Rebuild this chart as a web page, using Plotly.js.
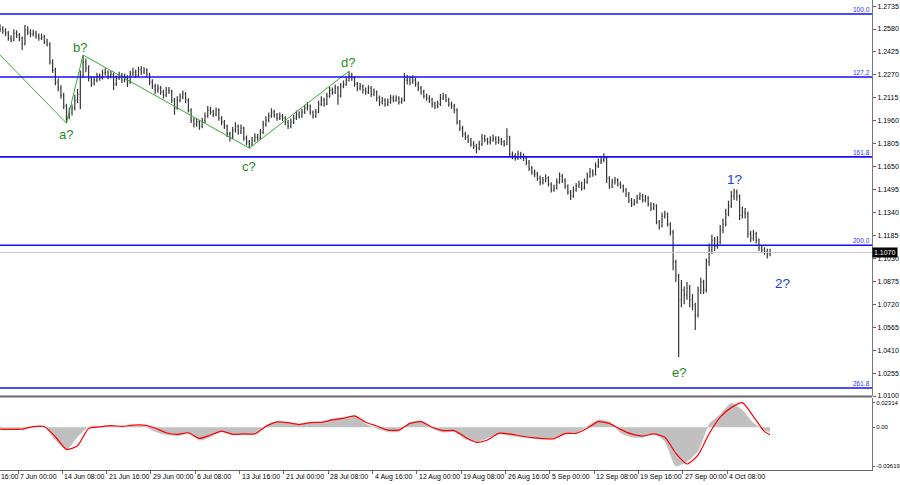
<!DOCTYPE html>
<html><head><meta charset="utf-8">
<script src="https://cdn.plot.ly/plotly-3.0.1.min.js"></script>
<style>html,body{margin:0;padding:0;background:#fff}#chart{width:900px;height:485px}</style>
</head><body><div id="chart"></div>
<script>
// H4 bars, every second bar kept (bar sequence index = 2*k)
const barStep = 2;
const open = [
1.2590,1.2579,1.2566,1.2552,1.2519,1.2505,1.2552,1.2539,1.2519,1.2478,
1.2573,1.2559,1.2546,1.2552,1.2532,1.2519,1.2525,1.2492,1.2478,1.2356,
1.2302,1.2221,1.2181,1.2133,1.2059,1.1991,1.2018,1.2045,1.2100,1.2140,
1.2269,1.2356,1.2316,1.2248,1.2214,1.2235,1.2262,1.2248,1.2282,1.2289,
1.2262,1.2275,1.2208,1.2248,1.2269,1.2235,1.2255,1.2221,1.2275,1.2289,
1.2269,1.2302,1.2289,1.2302,1.2275,1.2221,1.2194,1.2167,1.2181,1.2154,
1.2133,1.2167,1.2160,1.2100,1.2045,1.2100,1.2120,1.2140,1.2100,1.2032,
1.1964,1.1937,1.1951,1.1924,1.1957,1.1991,1.2032,1.2018,1.2005,1.2032,
1.1978,1.1951,1.1924,1.1870,1.1843,1.1897,1.1924,1.1883,1.1910,1.1843,
1.1816,1.1802,1.1830,1.1850,1.1843,1.1883,1.1937,1.1964,1.1991,1.2018,
1.1998,1.1978,1.1991,1.1978,1.1951,1.1924,1.1951,1.1978,1.2005,1.1991,
1.2018,1.2045,1.2059,1.2018,1.1991,1.2018,1.2072,1.2100,1.2072,1.2126,
1.2167,1.2154,1.2181,1.2126,1.2194,1.2208,1.2235,1.2262,1.2248,1.2208,
1.2181,1.2194,1.2167,1.2154,1.2181,1.2140,1.2154,1.2113,1.2086,1.2100,
1.2072,1.2086,1.2113,1.2100,1.2113,1.2086,1.2100,1.2235,1.2235,1.2221,
1.2235,1.2208,1.2181,1.2154,1.2126,1.2113,1.2100,1.2072,1.2059,1.2072,
1.2113,1.2126,1.2100,1.2072,1.2059,1.2032,1.1951,1.1910,1.1870,1.1850,
1.1830,1.1802,1.1789,1.1775,1.1802,1.1843,1.1830,1.1816,1.1830,1.1843,
1.1816,1.1830,1.1816,1.1802,1.1850,1.1735,1.1721,1.1708,1.1735,1.1721,
1.1708,1.1681,1.1640,1.1613,1.1600,1.1573,1.1546,1.1559,1.1573,1.1532,
1.1492,1.1505,1.1546,1.1586,1.1559,1.1519,1.1478,1.1451,1.1492,1.1519,
1.1532,1.1505,1.1546,1.1586,1.1613,1.1600,1.1654,1.1681,1.1694,1.1708,
1.1573,1.1519,1.1546,1.1559,1.1532,1.1519,1.1492,1.1465,1.1424,1.1397,
1.1411,1.1438,1.1451,1.1424,1.1438,1.1397,1.1370,1.1384,1.1276,1.1249,
1.1316,1.1330,1.1262,1.1208,1.1005,1.0911,1.0749,1.0816,1.0783,1.0830,
1.0749,1.0715,1.0647,1.0816,1.0870,1.0816,1.1005,1.1086,1.1154,1.1113,
1.1140,1.1222,1.1262,1.1330,1.1384,1.1451,1.1478,1.1451,1.1323,1.1343,
1.1330,1.1195,1.1167,1.1195,1.1154,1.1100,1.1086,1.1073,1.1059];
const high = [
1.2612,1.2598,1.2585,1.2566,1.2538,1.2578,1.2571,1.2552,1.2530,1.2607,
1.2598,1.2578,1.2575,1.2568,1.2550,1.2548,1.2540,1.2515,1.2490,1.2375,
1.2318,1.2245,1.2200,1.2150,1.2075,1.2050,1.2070,1.2135,1.2175,1.2300,
1.2404,1.2380,1.2335,1.2262,1.2258,1.2285,1.2280,1.2305,1.2315,1.2300,
1.2296,1.2285,1.2265,1.2292,1.2282,1.2278,1.2268,1.2298,1.2318,1.2305,
1.2325,1.2330,1.2322,1.2315,1.2285,1.2240,1.2210,1.2205,1.2195,1.2170,
1.2190,1.2188,1.2170,1.2115,1.2125,1.2145,1.2165,1.2155,1.2112,1.2045,
1.1980,1.1975,1.1965,1.1980,1.2015,1.2060,1.2055,1.2035,1.2050,1.2045,
1.1990,1.1965,1.1935,1.1885,1.1920,1.1950,1.1935,1.1935,1.1920,1.1860,
1.1830,1.1850,1.1875,1.1870,1.1905,1.1960,1.1990,1.2015,1.2045,1.2035,
1.2012,1.2015,1.2005,1.1990,1.1965,1.1975,1.2000,1.2030,1.2025,1.2040,
1.2068,1.2085,1.2070,1.2030,1.2040,1.2095,1.2125,1.2115,1.2150,1.2190,
1.2185,1.2205,1.2195,1.2215,1.2232,1.2258,1.2295,1.2285,1.2260,1.2222,
1.2215,1.2205,1.2185,1.2200,1.2195,1.2178,1.2165,1.2130,1.2120,1.2112,
1.2110,1.2135,1.2130,1.2132,1.2125,1.2118,1.2282,1.2270,1.2262,1.2268,
1.2250,1.2225,1.2195,1.2170,1.2145,1.2132,1.2115,1.2090,1.2095,1.2140,
1.2150,1.2140,1.2115,1.2090,1.2075,1.2045,1.1965,1.1925,1.1885,1.1868,
1.1845,1.1822,1.1805,1.1825,1.1870,1.1865,1.1845,1.1855,1.1868,1.1855,
1.1856,1.1845,1.1830,1.1910,1.1858,1.1752,1.1740,1.1758,1.1750,1.1738,
1.1720,1.1695,1.1655,1.1630,1.1615,1.1590,1.1580,1.1598,1.1585,1.1545,
1.1528,1.1570,1.1610,1.1600,1.1572,1.1530,1.1492,1.1515,1.1540,1.1555,
1.1548,1.1570,1.1610,1.1640,1.1632,1.1678,1.1705,1.1720,1.1741,1.1718,
1.1585,1.1568,1.1580,1.1572,1.1550,1.1530,1.1505,1.1478,1.1438,1.1432,
1.1460,1.1475,1.1465,1.1460,1.1450,1.1410,1.1405,1.1395,1.1290,1.1340,
1.1352,1.1340,1.1275,1.1222,1.1020,1.0925,1.0884,1.0840,1.0870,1.0850,
1.0790,1.0730,1.0840,1.0900,1.0885,1.1030,1.1130,1.1190,1.1175,1.1180,
1.1255,1.1300,1.1365,1.1420,1.1485,1.1500,1.1495,1.1462,1.1380,1.1370,
1.1345,1.1215,1.1222,1.1210,1.1165,1.1118,1.1105,1.1095,1.1095];
const low = [
1.2560,1.2548,1.2531,1.2500,1.2490,1.2498,1.2520,1.2498,1.2438,1.2470,
1.2540,1.2525,1.2530,1.2515,1.2500,1.2505,1.2478,1.2462,1.2340,1.2285,
1.2200,1.2160,1.2110,1.2040,1.1944,1.1970,1.1995,1.2030,1.2080,1.2040,
1.2250,1.2290,1.2225,1.2190,1.2198,1.2220,1.2230,1.2238,1.2265,1.2240,
1.2248,1.2168,1.2195,1.2235,1.2215,1.2220,1.2188,1.2210,1.2262,1.2250,
1.2258,1.2270,1.2275,1.2255,1.2200,1.2175,1.2140,1.2150,1.2135,1.2110,
1.2120,1.2140,1.2080,1.2000,1.2035,1.2085,1.2105,1.2080,1.2015,1.1945,
1.1915,1.1920,1.1900,1.1910,1.1945,1.1980,1.2000,1.1985,1.1990,1.1960,
1.1930,1.1905,1.1850,1.1820,1.1835,1.1880,1.1865,1.1870,1.1825,1.1795,
1.1775,1.1790,1.1815,1.1825,1.1830,1.1870,1.1920,1.1950,1.1980,1.1980,
1.1960,1.1965,1.1958,1.1930,1.1905,1.1910,1.1938,1.1965,1.1975,1.1980,
1.2005,1.2030,1.2000,1.1975,1.1980,1.2010,1.2060,1.2055,1.2065,1.2115,
1.2135,1.2140,1.2068,1.2118,1.2180,1.2195,1.2225,1.2230,1.2190,1.2160,
1.2165,1.2145,1.2135,1.2140,1.2120,1.2125,1.2090,1.2060,1.2070,1.2055,
1.2060,1.2075,1.2085,1.2088,1.2070,1.2075,1.2090,1.2205,1.2200,1.2210,
1.2190,1.2160,1.2135,1.2110,1.2095,1.2080,1.2050,1.2040,1.2045,1.2060,
1.2100,1.2085,1.2055,1.2040,1.2010,1.1935,1.1890,1.1850,1.1830,1.1810,
1.1785,1.1770,1.1740,1.1760,1.1790,1.1815,1.1798,1.1800,1.1818,1.1798,
1.1805,1.1795,1.1785,1.1795,1.1720,1.1700,1.1690,1.1695,1.1700,1.1688,
1.1660,1.1620,1.1595,1.1580,1.1555,1.1525,1.1530,1.1545,1.1515,1.1475,
1.1480,1.1495,1.1535,1.1540,1.1500,1.1460,1.1424,1.1440,1.1480,1.1505,
1.1488,1.1495,1.1535,1.1575,1.1582,1.1590,1.1640,1.1668,1.1680,1.1540,
1.1500,1.1505,1.1530,1.1515,1.1500,1.1475,1.1445,1.1405,1.1378,1.1385,
1.1400,1.1425,1.1408,1.1410,1.1380,1.1350,1.1355,1.1260,1.1225,1.1240,
1.1300,1.1245,1.1185,1.0950,1.0870,1.0363,1.0700,1.0720,1.0750,1.0700,
1.0680,1.0546,1.0630,1.0790,1.0790,1.0800,1.0980,1.1060,1.1080,1.1095,
1.1125,1.1200,1.1245,1.1315,1.1370,1.1425,1.1420,1.1290,1.1300,1.1300,
1.1170,1.1140,1.1150,1.1130,1.1080,1.1065,1.1055,1.1030,1.1045];
const close = [
1.2579,1.2566,1.2552,1.2519,1.2505,1.2552,1.2539,1.2519,1.2478,1.2573,
1.2559,1.2546,1.2552,1.2532,1.2519,1.2525,1.2492,1.2478,1.2356,1.2302,
1.2221,1.2181,1.2133,1.2059,1.1991,1.2018,1.2045,1.2100,1.2140,1.2269,
1.2356,1.2316,1.2248,1.2214,1.2235,1.2262,1.2248,1.2282,1.2289,1.2262,
1.2275,1.2208,1.2248,1.2269,1.2235,1.2255,1.2221,1.2275,1.2289,1.2269,
1.2302,1.2289,1.2302,1.2275,1.2221,1.2194,1.2167,1.2181,1.2154,1.2133,
1.2167,1.2160,1.2100,1.2045,1.2100,1.2120,1.2140,1.2100,1.2032,1.1964,
1.1937,1.1951,1.1924,1.1957,1.1991,1.2032,1.2018,1.2005,1.2032,1.1978,
1.1951,1.1924,1.1870,1.1843,1.1897,1.1924,1.1883,1.1910,1.1843,1.1816,
1.1802,1.1830,1.1850,1.1843,1.1883,1.1937,1.1964,1.1991,1.2018,1.1998,
1.1978,1.1991,1.1978,1.1951,1.1924,1.1951,1.1978,1.2005,1.1991,1.2018,
1.2045,1.2059,1.2018,1.1991,1.2018,1.2072,1.2100,1.2072,1.2126,1.2167,
1.2154,1.2181,1.2126,1.2194,1.2208,1.2235,1.2262,1.2248,1.2208,1.2181,
1.2194,1.2167,1.2154,1.2181,1.2140,1.2154,1.2113,1.2086,1.2100,1.2072,
1.2086,1.2113,1.2100,1.2113,1.2086,1.2100,1.2235,1.2235,1.2221,1.2235,
1.2208,1.2181,1.2154,1.2126,1.2113,1.2100,1.2072,1.2059,1.2072,1.2113,
1.2126,1.2100,1.2072,1.2059,1.2032,1.1951,1.1910,1.1870,1.1850,1.1830,
1.1802,1.1789,1.1775,1.1802,1.1843,1.1830,1.1816,1.1830,1.1843,1.1816,
1.1830,1.1816,1.1802,1.1850,1.1735,1.1721,1.1708,1.1735,1.1721,1.1708,
1.1681,1.1640,1.1613,1.1600,1.1573,1.1546,1.1559,1.1573,1.1532,1.1492,
1.1505,1.1546,1.1586,1.1559,1.1519,1.1478,1.1451,1.1492,1.1519,1.1532,
1.1505,1.1546,1.1586,1.1613,1.1600,1.1654,1.1681,1.1694,1.1708,1.1573,
1.1519,1.1546,1.1559,1.1532,1.1519,1.1492,1.1465,1.1424,1.1397,1.1411,
1.1438,1.1451,1.1424,1.1438,1.1397,1.1370,1.1384,1.1276,1.1249,1.1316,
1.1330,1.1262,1.1208,1.1005,1.0911,1.0749,1.0816,1.0783,1.0830,1.0749,
1.0715,1.0647,1.0816,1.0870,1.0816,1.1005,1.1086,1.1154,1.1113,1.1140,
1.1222,1.1262,1.1330,1.1384,1.1451,1.1478,1.1451,1.1323,1.1343,1.1330,
1.1195,1.1167,1.1195,1.1154,1.1100,1.1086,1.1073,1.1059,1.1070];

// time axis labels (bar sequence index of each label)
const tickIdx = [-19,13,45,77,109,141,173,205,237,269,301,333,365,397,429,461,493,525];
const tickLabels = ['31 May 16:00','7 Jun 00:00','14 Jun 08:00','21 Jun 16:00','29 Jun 00:00','6 Jul 08:00','13 Jul 16:00',
  '21 Jul 00:00','28 Jul 08:00','4 Aug 16:00','12 Aug 00:00','19 Aug 08:00','26 Aug 16:00',
  '5 Sep 00:00','12 Sep 08:00','19 Sep 16:00','27 Sep 00:00','4 Oct 08:00'];

// price axis labels
const priceTicks = [1.0100,1.0255,1.0410,1.0565,1.0720,1.0875,1.1030,1.1185,1.1340,1.1495,
  1.1650,1.1805,1.1960,1.2115,1.2270,1.2425,1.2580,1.2735];
const lastPrice = 1.1070;

// Fibonacci levels
const fibNames = ['100.0','127.2','161.8','200.0','261.8'];
const fibPrices = [1.2681,1.2256,1.1716,1.1119,1.0154];

// wave marking
const waveIdx = [0,48,60,180,252];
const wavePrice = [1.2404,1.1944,1.2404,1.1775,1.2295];
const greenLabels = ['a?','b?','c?','d?','e?'];
const greenLabelIdx = [48,58,180,251,490];
const greenLabelPrice = [1.1864,1.2452,1.1654,1.2357,1.0262];
const blueLabels = ['1?','2?'];
const blueLabelIdx = [530,565];
const blueLabelPrice = [1.1566,1.0857];

// MACD (sampled every 8 bars)
const macdIdx = [0,8,16,24,32,40,48,56,64,72,80,88,96,104,112,120,128,136,144,152,160,168,176,184,192,
  200,208,216,224,232,240,248,256,264,272,280,288,296,304,312,320,328,336,344,352,360,368,376,384,392,
  400,408,416,424,432,440,448,456,464,472,480,488,496,504,512,520,528,536,544,552,556];
const macdMain = [-0.0012,-0.0018,-0.0020,0.0008,0.0002,-0.0119,-0.0208,-0.0088,0.0005,0.0008,
  0.0010,0.0005,0.0012,0.0010,-0.0040,-0.0070,-0.0080,-0.0060,-0.0120,-0.0090,
  -0.0040,-0.0070,-0.0065,-0.0060,0.0020,0.0050,0.0040,0.0030,0.0045,0.0045,
  0.0080,0.0095,0.0105,0.0030,-0.0010,-0.0040,-0.0040,0.0040,0.0060,-0.0010,
  -0.0045,-0.0040,-0.0110,-0.0135,-0.0100,-0.0060,-0.0080,-0.0090,-0.0100,-0.0110,
  -0.0095,-0.0060,-0.0050,0.0010,0.0070,0.0050,-0.0050,-0.0090,-0.0095,-0.0060,
  -0.0130,-0.0362,-0.0320,-0.0220,0.0030,0.0120,0.0225,0.0160,0.0040,-0.0030,-0.0040];
const macdSignal = [-0.0016,-0.0020,-0.0018,0.0006,0.0008,-0.0088,-0.0206,-0.0172,-0.0010,0.0004,
  0.0016,0.0008,0.0020,0.0020,-0.0007,-0.0051,-0.0066,-0.0051,-0.0103,-0.0072,
  -0.0035,-0.0066,-0.0062,-0.0062,0.0008,0.0050,0.0044,0.0026,0.0044,0.0047,
  0.0069,0.0084,0.0106,0.0047,0.0012,-0.0026,-0.0026,0.0037,0.0053,0.0000,
  -0.0031,-0.0031,-0.0093,-0.0140,-0.0118,-0.0056,-0.0062,-0.0081,-0.0097,-0.0106,
  -0.0106,-0.0059,-0.0056,-0.0009,0.0053,0.0037,-0.0019,-0.0062,-0.0081,-0.0062,
  -0.0093,-0.0243,-0.0343,-0.0259,-0.0060,0.0096,0.0184,0.0230,0.0100,-0.0040,-0.0069];
const macdTicks = [0.02314, 0, -0.03619];
const macdTickText = ['0.02314','0.00','-0.03619'];

const barX = open.map((_, k) => k * barStep);
const FONT = 'Liberation Sans, Arial, sans-serif';
const xRange = [0, 629.6];

const traces = [
  {type:'ohlc', x:barX, open:open, high:high, low:low, close:close, xaxis:'x', yaxis:'y',
   increasing:{line:{color:'#363636', width:1.2}}, decreasing:{line:{color:'#363636', width:1.2}},
   tickwidth:0.3, showlegend:false, hoverinfo:'skip'},
  {type:'scatter', mode:'lines', x:waveIdx, y:wavePrice, xaxis:'x', yaxis:'y',
   line:{color:'#38a838', width:1}, showlegend:false, hoverinfo:'skip'},
  {type:'scatter', mode:'lines', x:macdIdx, y:macdMain, xaxis:'x', yaxis:'y2',
   fill:'tozeroy', fillcolor:'#c0c0c0', line:{color:'#c0c0c0', width:0.5, shape:'spline', smoothing:0.6},
   showlegend:false, hoverinfo:'skip'},
  {type:'scatter', mode:'lines', x:macdIdx, y:macdSignal, xaxis:'x', yaxis:'y2',
   line:{color:'#ff0000', width:1.2, shape:'spline', smoothing:0.6}, showlegend:false, hoverinfo:'skip'}
];

const shapes = [];
fibPrices.forEach(p => shapes.push({type:'line', xref:'paper', x0:0, x1:1, yref:'y', y0:p, y1:p,
  line:{color:'#1010ff', width:1.6}}));
shapes.push({type:'line', xref:'paper', x0:0, x1:1, yref:'y', y0:lastPrice, y1:lastPrice,
  line:{color:'#c8c8c8', width:1}});
shapes.push({type:'line', xref:'paper', x0:0, x1:1, yref:'paper', y0:0.1564, y1:0.1564,
  line:{color:'#6a6a6a', width:2}});

const annotations = [];
fibNames.forEach((n, i) => annotations.push({xref:'paper', x:1, xanchor:'right', yref:'y', y:fibPrices[i],
  yanchor:'bottom', text:n, showarrow:false, font:{family:FONT, size:6.5, color:'#3030ff'}, yshift:-1}));
greenLabels.forEach((t, i) => annotations.push({xref:'x', x:greenLabelIdx[i], yref:'y', y:greenLabelPrice[i],
  text:t, showarrow:false, font:{family:FONT, size:13, color:'#1e8c1e'}}));
blueLabels.forEach((t, i) => annotations.push({xref:'x', x:blueLabelIdx[i], yref:'y', y:blueLabelPrice[i],
  text:t, showarrow:false, font:{family:FONT, size:13.5, color:'#2040e0'}}));
annotations.push({xref:'paper', x:1, xanchor:'left', yref:'y', y:lastPrice, text:lastPrice.toFixed(4),
  showarrow:false, bgcolor:'#000', borderpad:1, font:{family:FONT, size:7, color:'#fff'}});
tickLabels.forEach((t, i) => annotations.push({xref:'paper', x:(tickIdx[i] - xRange[0]) / (xRange[1] - xRange[0]),
  xanchor:'left', yref:'paper', y:0, yanchor:'top', yshift:-1, text:t, showarrow:false,
  font:{family:FONT, size:7, color:'#000'}}));

const layout = {
  width:900, height:485, margin:{l:0, r:28, t:0, b:15},
  paper_bgcolor:'#fff', plot_bgcolor:'#fff', showlegend:false,
  font:{family:FONT, size:7, color:'#000'},
  xaxis:{range:xRange, anchor:'y2', showgrid:false, zeroline:false, showline:true, linecolor:'#666', linewidth:1,
    tickmode:'array', tickvals:tickIdx, showticklabels:false, ticks:'outside', ticklen:3, tickcolor:'#666',
    rangeslider:{visible:false}, fixedrange:true},
  yaxis:{domain:[0.1574, 1], range:[1.0100, 1.2776], side:'right', showgrid:false, zeroline:false,
    showline:true, linecolor:'#777', tickmode:'array', tickvals:priceTicks, ticktext:priceTicks.map(v => v.toFixed(4)),
    ticks:'outside', ticklen:3, tickcolor:'#666', tickfont:{family:FONT, size:7, color:'#000'}},
  yaxis2:{domain:[0, 0.1532], range:[-0.0399, 0.0274], side:'right', showgrid:false, zeroline:false,
    showline:true, linecolor:'#777', tickmode:'array', tickvals:macdTicks, ticktext:macdTickText,
    ticks:'outside', ticklen:2, tickcolor:'#666', ticklabelstandoff:0, tickfont:{family:FONT, size:6, color:'#000'}},
  shapes:shapes, annotations:annotations
};
Plotly.newPlot('chart', traces, layout, {staticPlot:true, displayModeBar:false});
</script></body></html>
